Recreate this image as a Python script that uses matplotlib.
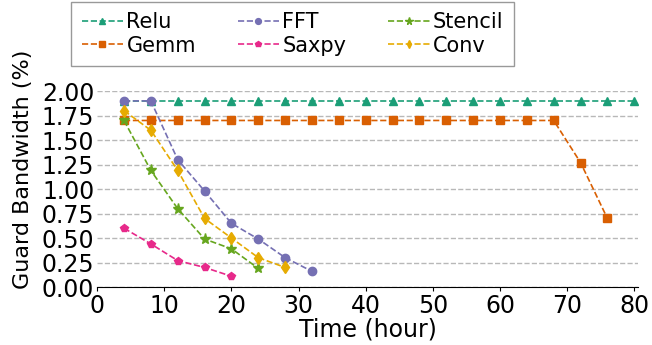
import matplotlib as mpl
import matplotlib.pyplot as plt
import numpy as np

mpl.rcParams.update({"font.family": "DejaVu Sans", "font.size": 17})

names = ["Relu", "Gemm", "FFT", "Saxpy", "Stencil", "Conv"]
colors = ["#1b9e77", "#d95f02", "#7570b3", "#e7298a", "#66a61e", "#e6ab02"]
markers = ["^", "s", "o", "p", "*", "d"]

relu_x = list(range(4, 81, 4))
relu_y = [1.9] * len(relu_x)
gemm_x = list(range(4, 77, 4))
gemm_y = [1.7] * 17 + [1.27, 0.7]
fft_x = [4, 8, 12, 16, 20, 24, 28, 32]
fft_y = [1.9, 1.9, 1.3, 0.98, 0.65, 0.49, 0.3, 0.16]
saxpy_x = [4, 8, 12, 16, 20]
saxpy_y = [0.6, 0.44, 0.27, 0.2, 0.11]
stencil_x = [4, 8, 12, 16, 20, 24]
stencil_y = [1.7, 1.19, 0.8, 0.49, 0.39, 0.19]
conv_x = [4, 8, 12, 16, 20, 24, 28]
conv_y = [1.8, 1.6, 1.19, 0.7, 0.5, 0.3, 0.2]

series = [(relu_x, relu_y), (gemm_x, gemm_y), (fft_x, fft_y),
          (saxpy_x, saxpy_y), (stencil_x, stencil_y), (conv_x, conv_y)]

fig = plt.figure(figsize=(6.52, 3.45), dpi=100)
ax = fig.add_axes([0.149, 0.168, 0.83, 0.568])

for (x, y), name, c, m in zip(series, names, colors, markers):
    ms = 8 if m == "*" else 6
    ax.plot(x, y, linestyle="--", color=c, marker=m, markersize=ms, linewidth=1.2, label=name)

ax.set_xlim(0, 80.6)
ax.set_ylim(0, 2.0)
ax.set_xticks(np.arange(0, 81, 10))
ax.set_yticks(np.arange(0, 2.01, 0.25))
ax.set_yticklabels([f"{v:.2f}" for v in np.arange(0, 2.01, 0.25)])
ax.grid(axis="y", linestyle="--", color="#b8b8b8", linewidth=1)
ax.set_axisbelow(True)
for s in ["top", "right", "left"]:
    ax.spines[s].set_visible(False)
ax.tick_params(axis="y", length=0, pad=2)
ax.tick_params(axis="x", length=3, pad=2, labelsize=17)
ax.set_xlabel("Time (hour)", labelpad=0)
ax.set_ylabel("Guard Bandwidth (%)", fontsize=16)
ax.yaxis.set_label_coords(-0.118, 0.6)

fig.legend(loc="upper left", bbox_to_anchor=(0.106, 1.0), ncol=3, fontsize=15,
           fancybox=False, edgecolor="#999999", framealpha=1, handlelength=2.0,
           columnspacing=2.0, borderpad=0.5, labelspacing=0.15, handletextpad=0.15,
           markerscale=0.7, borderaxespad=0.1)

fig.savefig("out.png", dpi=100)
